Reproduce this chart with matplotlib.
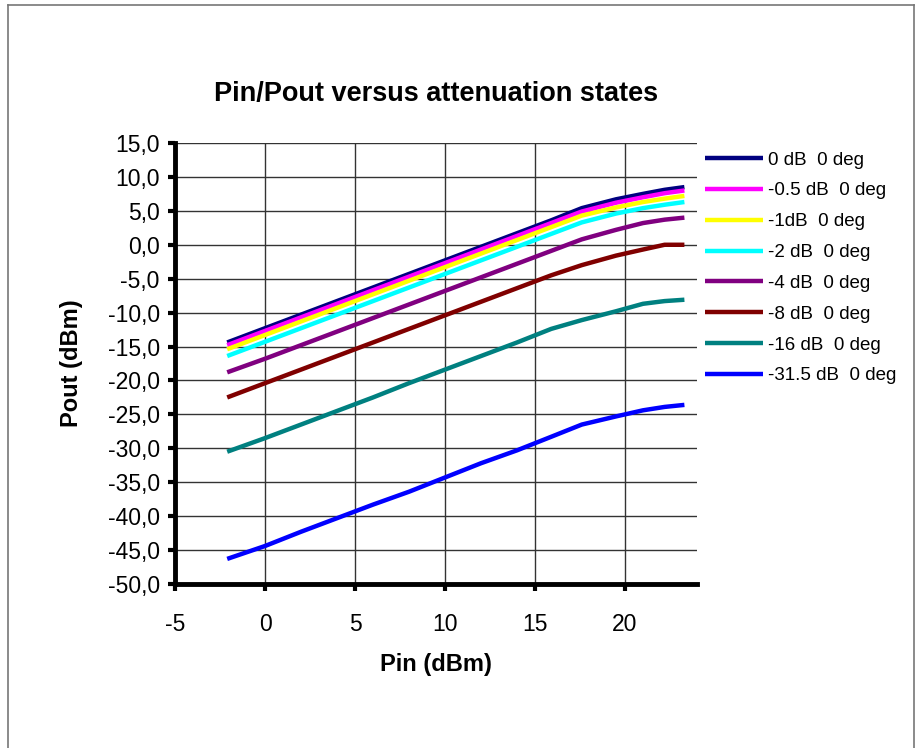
import matplotlib
matplotlib.use("Agg")
import matplotlib.pyplot as plt
from matplotlib.ticker import FuncFormatter, MultipleLocator
from matplotlib.lines import Line2D

plt.rcParams['font.family'] = ['Liberation Sans', 'DejaVu Sans']
plt.rcParams['axes.unicode_minus'] = False

# Pin (dBm)
pin = [-2.1, 0.0, 2.0, 4.0, 6.0, 8.0, 10.0, 12.0, 14.0, 15.9, 17.6, 19.5, 21.0, 22.2, 23.3]

# Pout (dBm) per attenuation state
att_0 = [-14.4, -12.3, -10.3, -8.3, -6.3, -4.3, -2.3, -0.3, 1.7, 3.6, 5.4, 6.7, 7.5, 8.1, 8.5]
att_05 = [-14.8, -12.7, -10.7, -8.7, -6.7, -4.7, -2.7, -0.7, 1.3, 3.2, 4.9, 6.2, 7.0, 7.6, 8.0]
att_1 = [-15.4, -13.3, -11.3, -9.3, -7.3, -5.3, -3.3, -1.3, 0.7, 2.6, 4.3, 5.5, 6.3, 6.8, 7.2]
att_2 = [-16.4, -14.3, -12.3, -10.3, -8.3, -6.3, -4.3, -2.3, -0.3, 1.6, 3.3, 4.6, 5.4, 5.9, 6.3]
att_4 = [-18.8, -16.8, -14.8, -12.8, -10.8, -8.8, -6.8, -4.8, -2.8, -0.9, 0.8, 2.2, 3.2, 3.7, 4.0]
att_8 = [-22.5, -20.4, -18.4, -16.4, -14.4, -12.4, -10.4, -8.4, -6.4, -4.5, -3.0, -1.6, -0.7, 0.0, 0.0]
att_16 = [-30.5, -28.5, -26.5, -24.5, -22.5, -20.4, -18.4, -16.4, -14.4, -12.4, -11.1, -9.8, -8.7, -8.3, -8.1]
att_315 = [-46.3, -44.4, -42.3, -40.3, -38.3, -36.4, -34.3, -32.2, -30.3, -28.3, -26.5, -25.3, -24.4, -23.9, -23.6]

labels = ["0 dB  0 deg", "-0.5 dB  0 deg", "-1dB  0 deg", "-2 dB  0 deg",
          "-4 dB  0 deg", "-8 dB  0 deg", "-16 dB  0 deg", "-31.5 dB  0 deg"]
series = [att_0, att_05, att_1, att_2, att_4, att_8, att_16, att_315]
colors = ["#000080", "#FF00FF", "#FFFF00", "#00FFFF",
          "#800080", "#800000", "#008080", "#0000FF"]

fig = plt.figure(figsize=(9.22, 7.48), dpi=100)
ax = fig.add_axes([175 / 922, 1 - 584 / 748, 522 / 922, 441 / 748])

for vals, lab, col in zip(series, labels, colors):
    ax.plot(pin, vals, color=col, lw=3.2, label=lab, solid_capstyle='butt')

ax.set_xlim(-5, 24)
ax.set_ylim(-50, 15)
ax.xaxis.set_major_locator(MultipleLocator(5))
ax.yaxis.set_major_locator(MultipleLocator(5))
ax.yaxis.set_major_formatter(FuncFormatter(lambda v, p: f"{v:.1f}".replace('.', ',')))
ax.grid(True, color='#333333', lw=1.0)
ax.set_axisbelow(True)

for s in ['top', 'right']:
    ax.spines[s].set_visible(False)
for s in ['left', 'bottom']:
    ax.spines[s].set_linewidth(3.5)
    ax.spines[s].set_color('black')
ax.tick_params(direction='out', length=5, width=3, labelsize=16.5, pad=6)
ax.tick_params(axis='x', pad=16)

ax.set_title("Pin/Pout versus attenuation states", fontsize=19.5, fontweight='bold', pad=30)
ax.set_xlabel("Pin (dBm)", fontsize=17, fontweight='bold', labelpad=12)
ax.set_ylabel("Pout (dBm)", fontsize=17, fontweight='bold', labelpad=18)

fig.legend(loc='upper left', bbox_to_anchor=(697 / 922, 1 - 144 / 748), frameon=False,
           fontsize=13.5, handlelength=3.1, handletextpad=0.3, labelspacing=0.73,
           borderaxespad=0)

# outer chart frame
for xs, ys in [([8 / 922, 8 / 922], [0, 1 - 5 / 748]),
               ([8 / 922, 914 / 922], [1 - 5 / 748, 1 - 5 / 748]),
               ([914 / 922, 914 / 922], [1 - 5 / 748, 0])]:
    fig.add_artist(Line2D(xs, ys, color='#777777', lw=1.2, transform=fig.transFigure))

fig.savefig("out.png", dpi=100)
